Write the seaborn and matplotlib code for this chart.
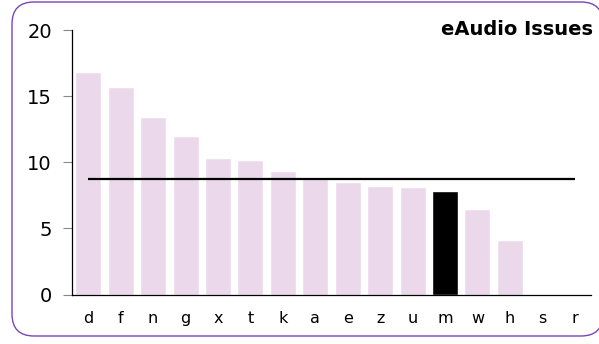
import matplotlib
matplotlib.use("Agg")
import matplotlib.pyplot as plt
import matplotlib.transforms as mtransforms
import seaborn as sns
import pandas as pd
from matplotlib.patches import FancyBboxPatch

# Data
categories = ["d", "f", "n", "g", "x", "t", "k", "a", "e", "z", "u", "m", "w", "h", "s", "r"]
issues = [16.8, 15.7, 13.45, 11.95, 10.35, 10.15, 9.35, 8.7, 8.5, 8.2, 8.1, 7.8, 6.5, 4.15, 0, 0]
highlight = "m"
average_line = 8.75
title = "eAudio Issues"

df = pd.DataFrame({"cat": categories, "val": issues})

sns.set_style("white")
plt.rcParams["font.family"] = ["DejaVu Sans"]
plt.rcParams["text.color"] = "black"

bar_col = "#ebd9eb"
palette = {c: ("#000000" if c == highlight else bar_col) for c in categories}

fig = plt.figure(figsize=(5.99, 3.44), dpi=100)
ax = fig.add_axes([72 / 599, 1 - 294.5 / 344, (591 - 72) / 599, (294.5 - 30) / 344])

sns.barplot(data=df, x="cat", y="val", hue="cat", palette=palette,
            legend=False, width=0.8, ax=ax, saturation=1)

# average line across the categories
ax.hlines(average_line, 0, len(categories) - 1, color="black", lw=1.6, zorder=5)

ax.set_ylim(0, 20)
ax.set_xlim(-0.5, len(categories) - 0.5)
ax.set_yticks([0, 5, 10, 15, 20])
ax.set_xlabel("")
ax.set_ylabel("")
ax.tick_params(axis="y", left=True, length=6.5, width=0.8, color="#888888",
               pad=8, labelsize=14, labelcolor="black")
ax.tick_params(axis="x", bottom=False, length=0, pad=12, labelsize=11.5,
               labelcolor="black")
for s in ["top", "right"]:
    ax.spines[s].set_visible(False)
for s in ["left", "bottom"]:
    ax.spines[s].set_color("black")
    ax.spines[s].set_linewidth(0.9)

fig.text(593 / 599, 1 - 35 / 344, title, ha="right", va="baseline",
         fontsize=14, fontweight="bold", color="black")

# rounded purple frame, in pixel units (right edge runs just off the canvas)
# filled white and kept behind the axes so Agg doesn't clip the curves oddly
px = mtransforms.Affine2D().scale(1 / 599, 1 / 344) + fig.transFigure
frame = FancyBboxPatch((12, 8), 603 - 12, 342 - 8,
                       boxstyle="round,pad=0,rounding_size=22",
                       transform=px, facecolor="white",
                       edgecolor="#7a45b8", lw=1.0, zorder=-1)
fig.patches.append(frame)

fig.savefig("out.png", dpi=100)
